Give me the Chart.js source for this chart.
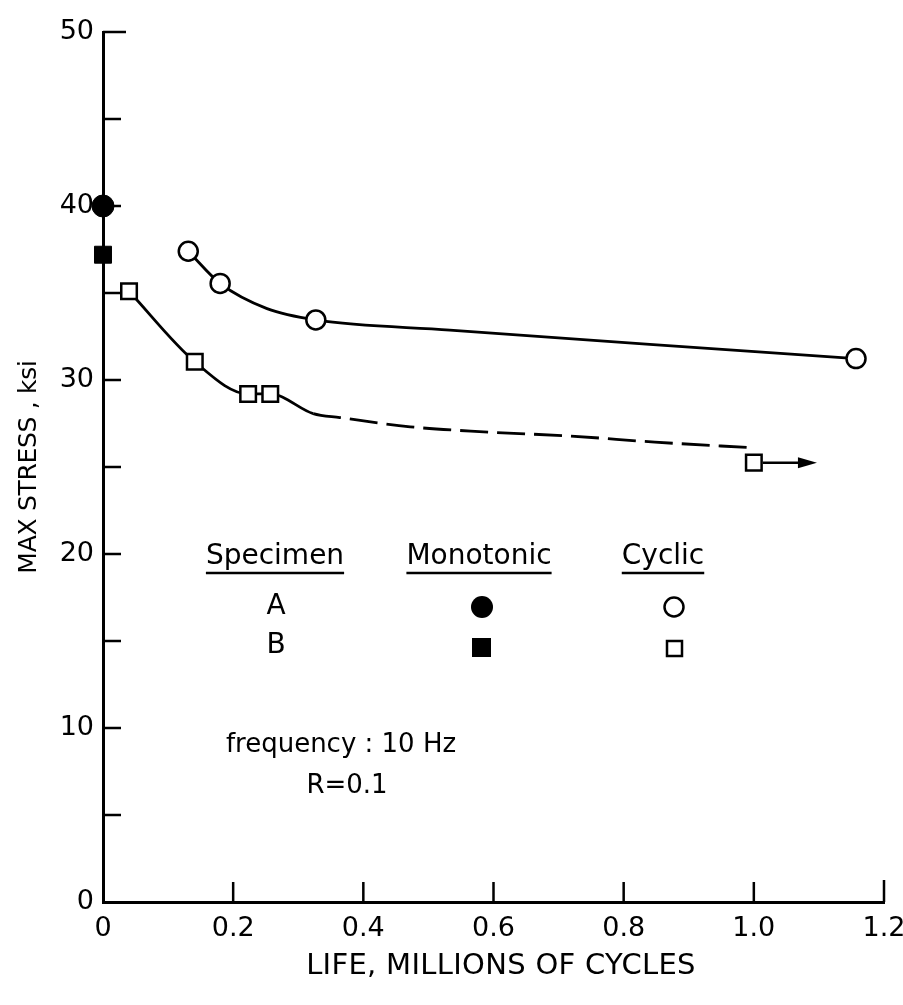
<!DOCTYPE html>
<html>
<head>
<meta charset="utf-8">
<script src="https://cdn.jsdelivr.net/npm/chart.js@4.4.1/dist/chart.umd.min.js"></script>
<style>
  html, body { margin: 0; padding: 0; background: #fff; }
  #wrap { width: 903px; height: 1005px; position: relative; }
</style>
</head>
<body>
<div id="wrap"><canvas id="myChart"></canvas></div>
<script>
// axis ticks
const xTicks = [0, 0.2, 0.4, 0.6, 0.8, 1.0, 1.2];
const xTickLabels = ['0', '0.2', '0.4', '0.6', '0.8', '1.0', '1.2'];
const yTicks = [0, 5, 10, 15, 20, 25, 30, 35, 40, 45, 50];
const yTickLabels = ['0', '', '10', '', '20', '', '30', '', '40', '', '50'];

// monotonic tests (life ~ 0)
const monoALife = [0];
const monoAStress = [40];
const monoBLife = [0];
const monoBStress = [37.2];

// cyclic tests, life in millions of cycles
const cycALife = [0.131, 0.180, 0.327, 1.157];
const cycAStress = [37.4, 35.55, 33.45, 31.23];
const cycBLife = [0.040, 0.141, 0.223, 0.257, 1.0];
const cycBStress = [35.1, 31.05, 29.2, 29.2, 25.25];

// faired curves
const fitALife = [0.131, 0.180, 0.252, 0.327, 0.533, 0.840, 1.157];
const fitAStress = [37.4, 35.55, 34.1, 33.45, 32.87, 32.05, 31.23];
const fitBLife = [0.040, 0.141, 0.223, 0.257, 0.323, 0.364, 0.472, 0.585, 0.717, 0.848, 1.0];
const fitBStress = [35.1, 31.05, 29.2, 29.2, 28.07, 27.84, 27.31, 27.02, 26.78, 26.43, 26.1];
const dashFrom = 0.323;

// run-out arrow on last B point
const runoutLife = [1.0, 1.097];
const runoutStress = [25.25, 25.25];

function pts(xs, ys) {
    return xs.map((x, i) => ({ x: x, y: ys[i] }));
}

Chart.defaults.font.family = "'DejaVu Sans', sans-serif";
Chart.defaults.color = '#000';

const FONT = "'DejaVu Sans', sans-serif";

const decorations = {
    id: 'decorations',
    beforeDatasetsDraw(chart) {
        const ctx = chart.ctx, xs = chart.scales.x, ys = chart.scales.y, area = chart.chartArea;
        ctx.save();
        ctx.strokeStyle = '#000';
        ctx.lineWidth = 2.5;
        ctx.beginPath();
        // ticks point inward
        yTicks.forEach(v => {
            if (v === 0) return;
            const y = ys.getPixelForValue(v);
            ctx.moveTo(area.left, y);
            ctx.lineTo(area.left + (v === 50 ? 23 : 18), y);
        });
        xTicks.forEach(v => {
            if (v === 0) return;
            const x = xs.getPixelForValue(v);
            ctx.moveTo(x, area.bottom);
            ctx.lineTo(x, area.bottom - (v === 1.2 ? 22 : 20));
        });
        ctx.stroke();
        ctx.restore();
    },
    afterDatasetsDraw(chart) {
        const ctx = chart.ctx, xs = chart.scales.x, ys = chart.scales.y;
        ctx.save();
        ctx.strokeStyle = '#000';
        ctx.fillStyle = '#000';

        // arrow: test still running
        const x0 = xs.getPixelForValue(runoutLife[0]) + 9;
        const x1 = xs.getPixelForValue(runoutLife[1]);
        const ya = ys.getPixelForValue(runoutStress[0]);
        ctx.lineWidth = 2.5;
        ctx.beginPath();
        ctx.moveTo(x0, ya);
        ctx.lineTo(x1 - 16, ya);
        ctx.stroke();
        ctx.beginPath();
        ctx.moveTo(x1, ya);
        ctx.lineTo(x1 - 19, ya - 5.5);
        ctx.lineTo(x1 - 19, ya + 5.5);
        ctx.closePath();
        ctx.fill();

        // key table
        ctx.font = '28px ' + FONT;
        ctx.textAlign = 'center';
        ctx.textBaseline = 'middle';
        const heads = [['Specimen', 275], ['Monotonic', 479], ['Cyclic', 663]];
        heads.forEach(h => {
            ctx.fillText(h[0], h[1], 557);
            const w = ctx.measureText(h[0]).width;
            ctx.lineWidth = 2.5;
            ctx.beginPath();
            ctx.moveTo(h[1] - w / 2, 573);
            ctx.lineTo(h[1] + w / 2, 573);
            ctx.stroke();
        });
        ctx.fillText('A', 276, 607);
        ctx.fillText('B', 276, 646);
        ctx.beginPath();
        ctx.arc(482, 607, 11, 0, Math.PI * 2);
        ctx.fill();
        ctx.fillRect(472, 638, 19, 19);
        ctx.lineWidth = 2.5;
        ctx.beginPath();
        ctx.arc(674, 607, 9.5, 0, Math.PI * 2);
        ctx.stroke();
        ctx.strokeRect(667, 641, 15, 15);

        ctx.font = '26px ' + FONT;
        ctx.fillText('frequency : 10 Hz', 341, 745);
        ctx.fillText('R=0.1', 347, 786);

        // axis titles
        ctx.font = '29px ' + FONT;
        ctx.letterSpacing = '0.3px';
        ctx.fillText('LIFE, MILLIONS OF CYCLES', 501, 966);
        ctx.translate(29, 467);
        ctx.rotate(-Math.PI / 2);
        ctx.font = '25px ' + FONT;
        ctx.letterSpacing = '-0.3px';
        ctx.fillText('MAX STRESS , ksi', 0, 0);
        ctx.restore();
    }
};

const ctx = document.getElementById('myChart');

new Chart(ctx, {
    type: 'scatter',
    data: {
        datasets: [
            {
                label: 'A faired',
                data: pts(fitALife, fitAStress),
                showLine: true,
                borderColor: '#000',
                borderWidth: 2.8,
                pointRadius: 0,
                cubicInterpolationMode: 'monotone',
                fill: false,
                order: 5
            },
            {
                label: 'B faired',
                data: pts(fitBLife, fitBStress),
                showLine: true,
                borderColor: '#000',
                borderWidth: 2.8,
                pointRadius: 0,
                cubicInterpolationMode: 'monotone',
                fill: false,
                segment: {
                    borderDash: c => c.p0.parsed.x >= dashFrom ? [28, 9] : undefined
                },
                order: 5
            },
            {
                label: 'A cyclic',
                data: pts(cycALife, cycAStress),
                showLine: false,
                pointStyle: 'circle',
                pointRadius: 9.5,
                pointBorderWidth: 2.5,
                pointBackgroundColor: '#fff',
                pointBorderColor: '#000',
                clip: false,
                order: 1
            },
            {
                label: 'B cyclic',
                data: pts(cycBLife, cycBStress),
                showLine: false,
                pointStyle: 'rect',
                pointRadius: 11,
                pointBorderWidth: 2.5,
                pointBackgroundColor: '#fff',
                pointBorderColor: '#000',
                clip: false,
                order: 1
            },
            {
                label: 'A monotonic',
                data: pts(monoALife, monoAStress),
                pointStyle: 'circle',
                pointRadius: 11,
                pointBorderWidth: 1,
                pointBackgroundColor: '#000',
                pointBorderColor: '#000',
                clip: false,
                order: 1
            },
            {
                label: 'B monotonic',
                data: pts(monoBLife, monoBStress),
                pointStyle: 'rect',
                pointRadius: 12,
                pointBorderWidth: 1,
                pointBackgroundColor: '#000',
                pointBorderColor: '#000',
                clip: false,
                order: 1
            }
        ]
    },
    options: {
        responsive: true,
        maintainAspectRatio: false,
        animation: false,
        layout: { padding: { top: 32, right: 19, left: 0, bottom: 0 } },
        plugins: {
            legend: { display: false },
            tooltip: { enabled: false }
        },
        scales: {
            x: {
                type: 'linear',
                min: 0,
                max: 1.2,
                afterBuildTicks: s => { s.ticks = xTicks.map(v => ({ value: v })); },
                afterFit: s => { s.height = 103; s.paddingRight = 0; s.paddingLeft = 0; },
                grid: { display: false },
                border: { display: true, color: '#000', width: 3 },
                ticks: {
                    autoSkip: false,
                    maxRotation: 0,
                    padding: 3,
                    font: { size: 27 },
                    callback: (v, i) => xTickLabels[i]
                }
            },
            y: {
                type: 'linear',
                min: 0,
                max: 50,
                afterBuildTicks: s => { s.ticks = yTicks.map(v => ({ value: v })); },
                afterFit: s => { s.width = 103; },
                grid: { display: false },
                border: { display: true, color: '#000', width: 3 },
                ticks: {
                    autoSkip: false,
                    padding: 1,
                    font: { size: 27 },
                    callback: (v, i) => yTickLabels[i]
                }
            }
        }
    },
    plugins: [decorations]
});
</script>
</body>
</html>
